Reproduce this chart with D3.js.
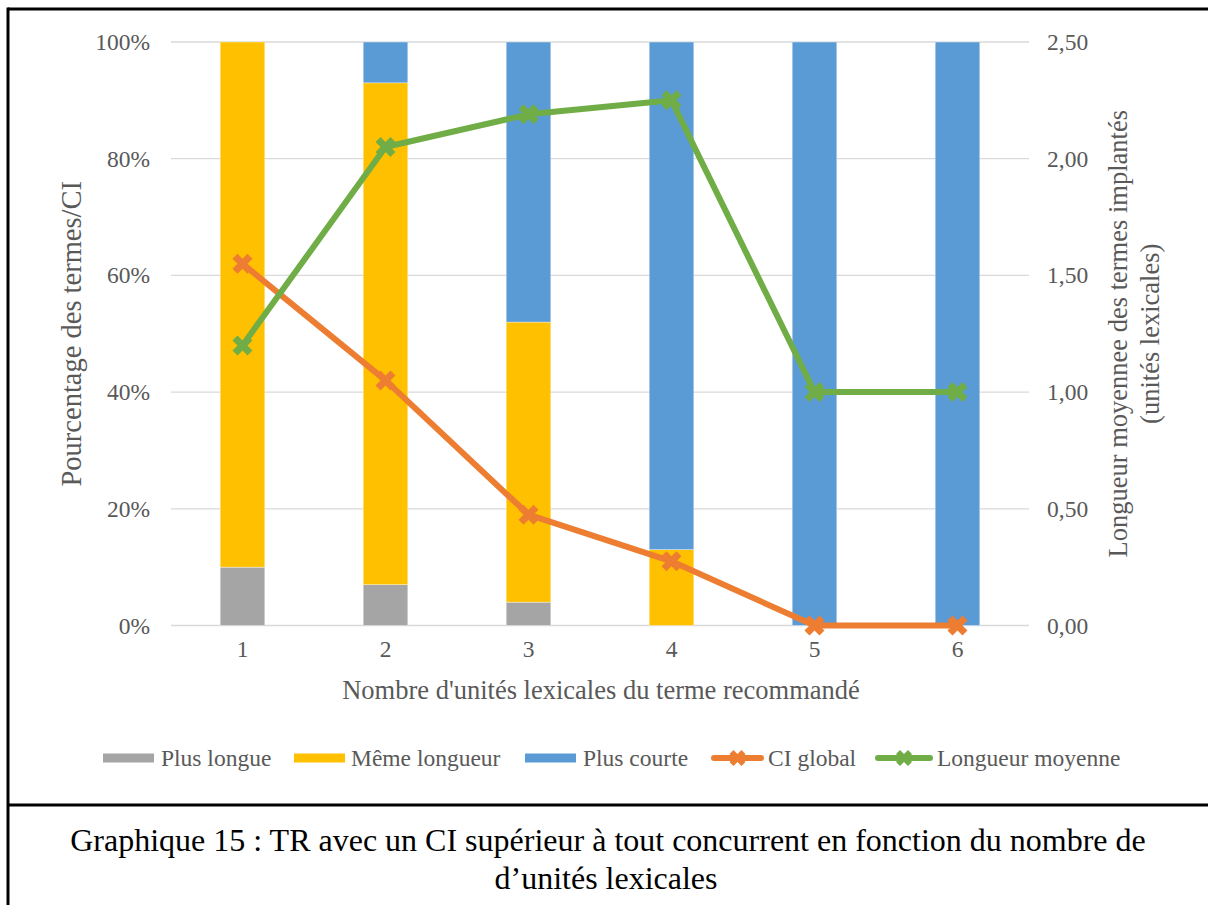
<!DOCTYPE html>
<html><head><meta charset="utf-8">
<script src="https://cdn.jsdelivr.net/npm/d3@7"></script>
<style>html,body{margin:0;padding:0;background:#fff;}svg{display:block;}</style>
</head><body>
<script>
const categories = ["1","2","3","4","5","6"];
const plusLongue = [0.10, 0.07, 0.04, 0, 0, 0];
const memeLongueur = [0.90, 0.86, 0.48, 0.13, 0, 0];
const plusCourte = [0, 0.07, 0.48, 0.87, 1.00, 1.00];
const ciGlobal = [0.62, 0.42, 0.19, 0.11, 0, 0];
const longueurMoyenne = [1.20, 2.05, 2.19, 2.25, 1.00, 1.00];
const leftTicks = [0, 0.2, 0.4, 0.6, 0.8, 1.0];
const rightTicks = [0, 0.5, 1.0, 1.5, 2.0, 2.5];
const seriesNames = ["Plus longue", "Même longueur", "Plus courte", "CI global", "Longueur moyenne"];
const colors = ["#A5A5A5", "#FFC000", "#5B9BD5", "#ED7D31", "#70AD47"];

(function () {
const W = 1208, H = 906;
const svg = d3.select("body").append("svg").attr("width", W).attr("height", H);
const font = "'Liberation Serif','Times New Roman',serif";

// frame
svg.append("line").attr("x1", 8).attr("x2", W).attr("y1", 9).attr("y2", 9).attr("stroke", "#000").attr("stroke-width", 3);
svg.append("line").attr("x1", 8).attr("x2", 8).attr("y1", 7.5).attr("y2", H - 1).attr("stroke", "#000").attr("stroke-width", 3);
svg.append("line").attr("x1", 8).attr("x2", W).attr("y1", 805).attr("y2", 805).attr("stroke", "#000").attr("stroke-width", 3);

const pLeft = 171, pRight = 1029, pTop = 42, pBottom = 625.5;
const x = d3.scaleBand().domain(categories).range([pLeft, pRight]).padding(0);
const yL = d3.scaleLinear().domain([0, 1]).range([pBottom, pTop]);
const yR = d3.scaleLinear().domain([0, 2.5]).range([pBottom, pTop]);
const barW = x.bandwidth() * 0.312;

// grid
svg.append("g").selectAll("line").data(leftTicks).join("line")
  .attr("x1", pLeft).attr("x2", pRight)
  .attr("y1", d => yL(d)).attr("y2", d => yL(d))
  .attr("stroke", "#D9D9D9").attr("stroke-width", d => d === 0 ? 1.5 : 1.3);

// stacked bars
const rows = categories.map((c, i) => ({c, a: plusLongue[i], b: memeLongueur[i], d: plusCourte[i]}));
const stack = d3.stack().keys(["a", "b", "d"])(rows);
svg.append("g").selectAll("g").data(stack).join("g")
  .attr("fill", (d, i) => colors[i])
  .selectAll("rect").data(d => d).join("rect")
  .attr("x", d => x(d.data.c) + x.bandwidth() / 2 - barW / 2)
  .attr("width", barW)
  .attr("y", d => yL(d[1]))
  .attr("height", d => Math.max(0, yL(d[0]) - yL(d[1])))
  .attr("stroke", "#fff").attr("stroke-width", d => (d[1] - d[0]) > 0 ? 0.6 : 0)
  .attr("stroke-opacity", 0.6);

// lines
const cx = c => x(c) + x.bandwidth() / 2;
const marker = d3.symbol().type(d3.symbolCross).size(250);
function drawLine(vals, scale, color) {
  const g = svg.append("g");
  g.append("path").datum(vals)
    .attr("d", d3.line().x((d, i) => cx(categories[i])).y(d => scale(d)))
    .attr("fill", "none").attr("stroke", color).attr("stroke-width", 6).attr("stroke-linejoin", "round").attr("stroke-linecap", "round");
  g.selectAll("path.m").data(vals).join("path").attr("class", "m")
    .attr("d", marker)
    .attr("transform", (d, i) => `translate(${cx(categories[i])},${scale(d)}) rotate(45)`)
    .attr("fill", color);
}
drawLine(ciGlobal, yL, colors[3]);
drawLine(longueurMoyenne, yR, colors[4]);

// axes
const tickSize = 23.5;
const axL = svg.append("g").attr("transform", `translate(${pLeft},0)`)
  .call(d3.axisLeft(yL).tickValues(leftTicks).tickFormat(d => Math.round(d * 100) + "%").tickSize(0).tickPadding(21));
const axR = svg.append("g").attr("transform", `translate(${pRight},0)`)
  .call(d3.axisRight(yR).tickValues(rightTicks).tickFormat(d => d3.format(".2f")(d).replace(".", ",")).tickSize(0).tickPadding(18));
const axB = svg.append("g").attr("transform", `translate(0,${pBottom})`)
  .call(d3.axisBottom(x).tickSize(0).tickPadding(15));
[axL, axR, axB].forEach(a => {
  a.select(".domain").remove();
  a.selectAll("text").attr("font-family", font).attr("font-size", tickSize).attr("fill", "#595959");
});

// axis titles
const titleSize = 26.5;
svg.append("text").attr("x", 601).attr("y", 699).attr("text-anchor", "middle")
  .attr("font-family", font).attr("font-size", titleSize).attr("fill", "#595959")
  .text("Nombre d'unités lexicales du terme recommandé");
svg.append("text").attr("transform", `translate(81,${(pTop + pBottom) / 2}) rotate(-90)`).attr("text-anchor", "middle")
  .attr("font-family", font).attr("font-size", 28.5).attr("fill", "#595959")
  .text("Pourcentage des termes/CI");
const rt = svg.append("text").attr("transform", `translate(1127,${(pTop + pBottom) / 2}) rotate(-90)`).attr("text-anchor", "middle")
  .attr("font-family", font).attr("font-size", titleSize).attr("fill", "#595959");
rt.append("tspan").attr("x", 0).attr("dy", 0).text("Longueur moyennee des termes implantés");
rt.append("tspan").attr("x", 0).attr("dy", 32).text("(unités lexicales)");

// legend
const legX = [103, 294, 525, 711, 875];
const legTextX = [161, 351, 583, 768, 937];
const leg = svg.append("g");
seriesNames.forEach((name, i) => {
  const g = leg.append("g").attr("transform", `translate(${legX[i]},758)`);
  if (i < 3) {
    g.append("rect").attr("x", 0).attr("y", -4.5).attr("width", 51).attr("height", 9).attr("fill", colors[i]);
  } else {
    const w = legTextX[i] - legX[i] - 4;
    g.append("line").attr("x1", 3).attr("x2", w - 3).attr("y1", 0).attr("y2", 0).attr("stroke", colors[i]).attr("stroke-width", 6).attr("stroke-linecap", "round");
    g.append("path").attr("d", d3.symbol().type(d3.symbolCross).size(160)).attr("transform", `translate(${w / 2},0) rotate(45)`).attr("fill", colors[i]);
  }
  g.append("text").attr("x", legTextX[i] - legX[i]).attr("y", 0).attr("dy", "0.35em")
    .attr("font-family", font).attr("font-size", tickSize).attr("fill", "#595959").text(name);
});

// caption
svg.append("text").attr("x", 608).attr("y", 851).attr("text-anchor", "middle")
  .attr("font-family", font).attr("font-size", 32).attr("fill", "#000")
  .text("Graphique 15 : TR avec un CI supérieur à tout concurrent en fonction du nombre de");
svg.append("text").attr("x", 606).attr("y", 889).attr("text-anchor", "middle")
  .attr("font-family", font).attr("font-size", 32).attr("fill", "#000")
  .text("d’unités lexicales");
})();
</script>
</body></html>
